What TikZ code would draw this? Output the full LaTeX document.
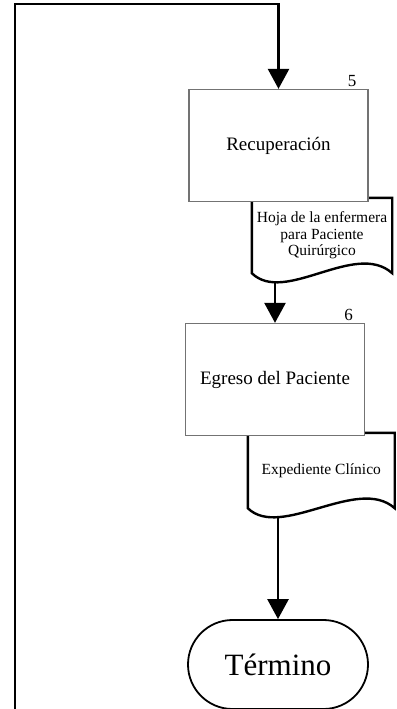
\documentclass[tikz,border=0pt]{standalone}
\usepackage{fontspec}
\setmainfont{Liberation Serif}
\usetikzlibrary{positioning,calc,arrows.meta,shapes.misc}

\begin{document}
\begin{tikzpicture}[
        x=1pt, y=-1pt,
        every node/.style={font=\fontsize{19}{22}\selectfont},
        proc/.style={rectangle, draw=black!55, line width=1.3pt, fill=white, minimum width=179pt, minimum height=112pt, inner sep=0pt},
        docbox/.style={rectangle, draw=none, align=center, font=\fontsize{15.5}{16.5}\selectfont, inner sep=0pt, minimum height=75pt},
        docline/.style={line width=2.4pt, draw=black, line join=miter},
        num/.style={font=\fontsize{17}{17}\selectfont, inner sep=0pt, anchor=south east},
        term/.style={rounded rectangle, draw=black, line width=1.8pt, fill=white, minimum width=180pt, minimum height=89pt, inner sep=0pt, font=\fontsize{31}{31}\selectfont},
        flow/.style={-{Triangle[width=21pt,length=20pt]}, line width=2.6pt, draw=black},
    ]
        \useasboundingbox (0,0) rectangle (396,709);

        % documents first, the boxes cover their tops
        \node[docbox, minimum width=140pt] (hoja) at (322,235.5) {Hoja de la enfermera\\para Paciente\\Quirúrgico};
        \draw[docline] (hoja.north west) -- (hoja.south west)
            .. controls +(33,32) and +(-37,-33) .. (hoja.south east)
            -- (hoja.north east) -- cycle;

        \node[docbox, minimum width=146.5pt] (exped) at (321.25,470.5) {Expediente Clínico};
        \draw[docline] (exped.north west) -- (exped.south west)
            .. controls +(33,32) and +(-37,-33) .. (exped.south east)
            -- (exped.north east) -- cycle;

        \node[proc] (recup) at (278.5,145.5) {Recuperación};
        \node[proc] (egreso) at (275,379.5) {Egreso del Paciente};
        \node[term] (termino) at (278,664.5) {Término};

        \node[num] (recupnum) at ($(recup.north east)+(-12,-2)$) {5};
        \node[num] (egresonum) at ($(egreso.north east)+(-12,-2)$) {6};

        \coordinate (loopin) at (15,709);
        \coordinate (loopturn) at (15,4);
        \coordinate (hojaout) at (275,282);
        \coordinate (expedout) at (278,517);

        \draw[flow] (loopin) -- (loopturn) -| (recup.north);
        \draw[flow] (hojaout) -- (egreso.north);
        \draw[flow] (expedout) -- (termino.north);

    \end{tikzpicture}
\end{document}
